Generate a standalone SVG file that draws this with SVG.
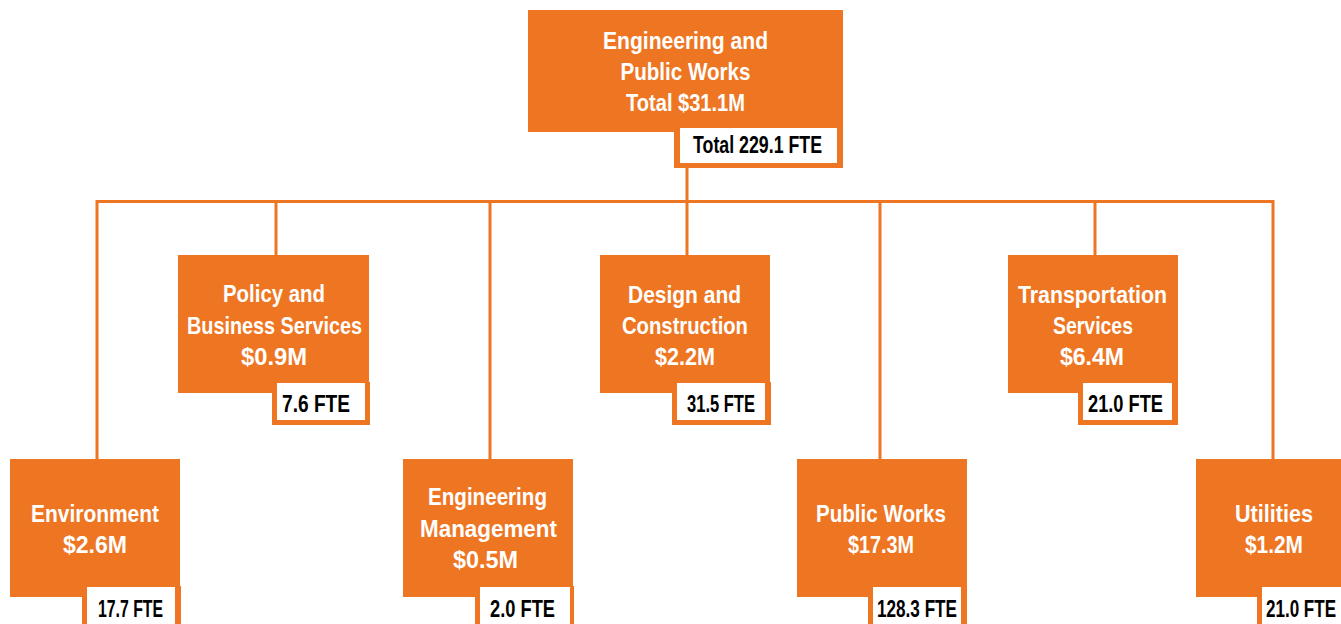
<svg xmlns="http://www.w3.org/2000/svg" width="1341" height="624" viewBox="0 0 1341 624">
<style>
.box{fill:#EE7623}
.fo{fill:#EE7623}
.fw{fill:#FFFFFF}
.t{font-family:"Liberation Sans",Arial,sans-serif;font-weight:bold;font-size:24px;fill:#FFFFFF;text-anchor:middle}
.f{font-family:"Liberation Sans",Arial,sans-serif;font-weight:bold;font-size:23px;fill:#000000;text-anchor:middle}
.c{fill:none;stroke:#EE7623;stroke-width:3}
</style>
<rect width="1341" height="624" fill="#FFFFFF"/>
<g id="connectors">
<path class="c" d="M687,168 V201.5 M97,459 V201.5 H1273 V459 M276,201.5 V255 M490,201.5 V459 M687,201.5 V255 M880,201.5 V459 M1095,201.5 V255"/>
</g>
<g id="top">
<rect class="box" x="528" y="10" width="315" height="122"/>
<rect class="fo" x="674" y="126" width="169" height="42"/>
<rect class="fw" x="680" y="128" width="157" height="35"/>
<text class="t" x="685.5" y="49" textLength="165" lengthAdjust="spacingAndGlyphs">Engineering and</text>
<text class="t" x="685.5" y="80" textLength="130" lengthAdjust="spacingAndGlyphs">Public Works</text>
<text class="t" x="685.5" y="111" textLength="119" lengthAdjust="spacingAndGlyphs">Total $31.1M</text>
<text class="f" x="757.5" y="153" textLength="129" lengthAdjust="spacingAndGlyphs">Total 229.1 FTE</text>
</g>
<g id="policy">
<rect class="box" x="178" y="255" width="191" height="138"/>
<rect class="fo" x="272" y="382" width="98" height="43"/>
<rect class="fw" x="277" y="383" width="88" height="37"/>
<text class="t" x="274" y="302" textLength="102" lengthAdjust="spacingAndGlyphs">Policy and</text>
<text class="t" x="274.5" y="334" textLength="175" lengthAdjust="spacingAndGlyphs">Business Services</text>
<text class="t" x="274" y="365" textLength="66" lengthAdjust="spacingAndGlyphs">$0.9M</text>
<text class="f" x="316" y="412" textLength="68" lengthAdjust="spacingAndGlyphs">7.6 FTE</text>
</g>
<g id="design">
<rect class="box" x="600" y="255" width="170" height="138"/>
<rect class="fo" x="672" y="382" width="99" height="43"/>
<rect class="fw" x="677" y="383" width="88" height="37"/>
<text class="t" x="684.5" y="303" textLength="113" lengthAdjust="spacingAndGlyphs">Design and</text>
<text class="t" x="685" y="334" textLength="126" lengthAdjust="spacingAndGlyphs">Construction</text>
<text class="t" x="685" y="365" textLength="60" lengthAdjust="spacingAndGlyphs">$2.2M</text>
<text class="f" x="721" y="412" textLength="68" lengthAdjust="spacingAndGlyphs">31.5 FTE</text>
</g>
<g id="transportation">
<rect class="box" x="1008" y="255" width="170" height="138"/>
<rect class="fo" x="1078" y="382" width="100" height="43"/>
<rect class="fw" x="1083" y="383" width="89" height="37"/>
<text class="t" x="1092.5" y="303" textLength="149" lengthAdjust="spacingAndGlyphs">Transportation</text>
<text class="t" x="1093" y="334" textLength="80" lengthAdjust="spacingAndGlyphs">Services</text>
<text class="t" x="1092" y="365" textLength="64" lengthAdjust="spacingAndGlyphs">$6.4M</text>
<text class="f" x="1125.5" y="412" textLength="75" lengthAdjust="spacingAndGlyphs">21.0 FTE</text>
</g>
<g id="environment">
<rect class="box" x="10" y="459" width="170" height="138"/>
<rect class="fo" x="82" y="586" width="99" height="50"/>
<rect class="fw" x="87" y="587" width="88" height="45"/>
<text class="t" x="95" y="522" textLength="128" lengthAdjust="spacingAndGlyphs">Environment</text>
<text class="t" x="95" y="553" textLength="64" lengthAdjust="spacingAndGlyphs">$2.6M</text>
<text class="f" x="130.5" y="617" textLength="65" lengthAdjust="spacingAndGlyphs">17.7 FTE</text>
</g>
<g id="engineering-management">
<rect class="box" x="403" y="459" width="170" height="138"/>
<rect class="fo" x="475" y="586" width="99" height="50"/>
<rect class="fw" x="480" y="587" width="90" height="45"/>
<text class="t" x="487.5" y="505" textLength="119" lengthAdjust="spacingAndGlyphs">Engineering</text>
<text class="t" x="488.5" y="537" textLength="137" lengthAdjust="spacingAndGlyphs">Management</text>
<text class="t" x="485.5" y="568" textLength="65" lengthAdjust="spacingAndGlyphs">$0.5M</text>
<text class="f" x="522.5" y="617" textLength="65" lengthAdjust="spacingAndGlyphs">2.0 FTE</text>
</g>
<g id="public-works">
<rect class="box" x="797" y="459" width="170" height="138"/>
<rect class="fo" x="868" y="586" width="99" height="50"/>
<rect class="fw" x="873" y="587" width="88" height="45"/>
<text class="t" x="881" y="522" textLength="130" lengthAdjust="spacingAndGlyphs">Public Works</text>
<text class="t" x="881" y="553" textLength="66" lengthAdjust="spacingAndGlyphs">$17.3M</text>
<text class="f" x="917" y="617" textLength="80" lengthAdjust="spacingAndGlyphs">128.3 FTE</text>
</g>
<g id="utilities">
<rect class="box" x="1196" y="459" width="160" height="138"/>
<rect class="fo" x="1257" y="586" width="99" height="50"/>
<rect class="fw" x="1262" y="587" width="90" height="45"/>
<text class="t" x="1274" y="522" textLength="78" lengthAdjust="spacingAndGlyphs">Utilities</text>
<text class="t" x="1274" y="553" textLength="58" lengthAdjust="spacingAndGlyphs">$1.2M</text>
<text class="f" x="1301" y="617" textLength="70" lengthAdjust="spacingAndGlyphs">21.0 FTE</text>
</g>
</svg>
